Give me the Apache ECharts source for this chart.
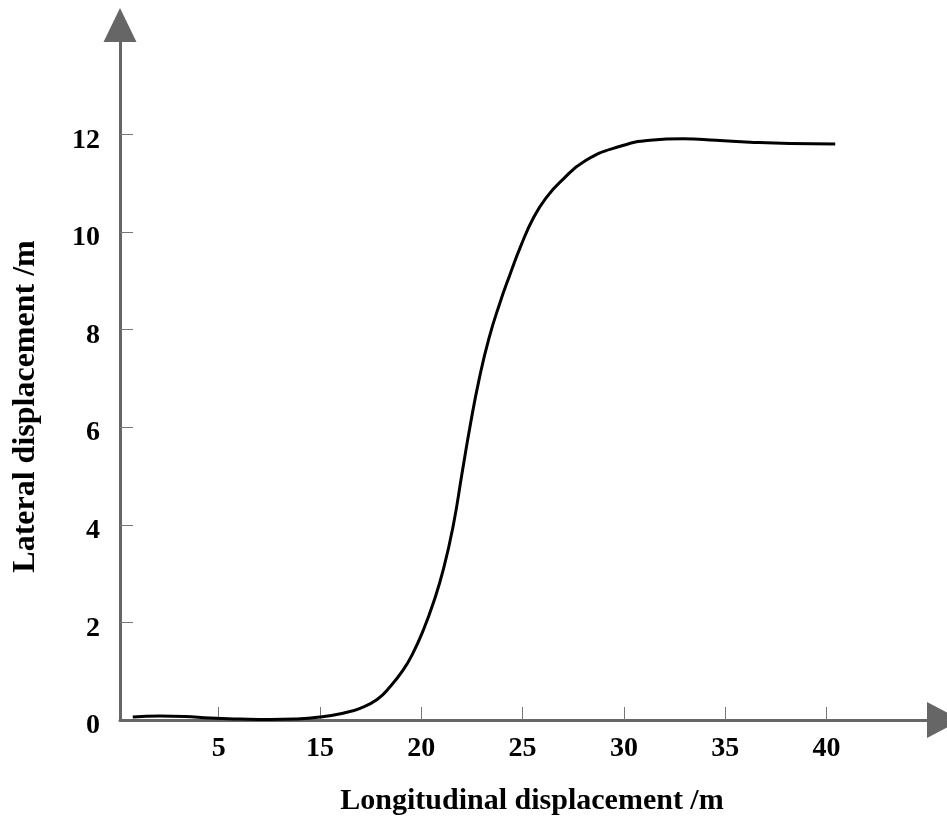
<!DOCTYPE html>
<html>
<head>
<meta charset="utf-8">
<script src="https://cdn.jsdelivr.net/npm/echarts@6/dist/echarts.min.js"></script>
<style>
  html, body { margin: 0; padding: 0; background: #fff; }
  #main { width: 947px; height: 821px; }
</style>
</head>
<body>
<div id="main"></div>
<script>
// 曲线数据
var xData = [5.76, 7.10, 8.34, 9.57, 11.05, 12.53, 13.77, 15.00, 16.14, 16.98, 17.82, 18.46, 19.10, 19.59, 20.09,
    20.58, 21.10, 21.59, 22.01, 22.43, 22.87, 23.34, 23.86, 24.38, 24.90, 25.55, 26.20, 26.85, 28.13, 29.86,
    31.29, 32.92, 34.55, 36.23, 38.20, 40.43];
var yData = [0.06, 0.08, 0.07, 0.04, 0.02, 0.01, 0.02, 0.06, 0.14, 0.24, 0.42, 0.68, 1.02, 1.37, 1.83,
    2.38, 3.10, 4.01, 5.05, 6.07, 7.01, 7.82, 8.52, 9.13, 9.70, 10.30, 10.72, 11.02, 11.47, 11.76,
    11.88, 11.91, 11.88, 11.84, 11.81, 11.80];
// 坐标轴刻度
var xTickValues = [10, 15, 20, 25, 30, 35, 40];
var xTickLabels = ['5', '15', '20', '25', '30', '35', '40'];
var yTickValues = [2, 4, 6, 8, 10, 12];
var yLabelValues = [0, 2, 4, 6, 8, 10, 12];

var points = [];
for (var i = 0; i < xData.length; i++) {
    points.push([xData[i], yData[i]]);
}

var font = '"Liberation Serif", "Times New Roman", serif';
var axisColor = '#666';

var myChart = echarts.init(document.getElementById('main'));
var option = {
    animation: false,
    backgroundColor: '#fff',
    grid: {
        left: 120,
        right: 3,
        top: 25,
        bottom: 97
    },
    xAxis: {
        type: 'value',
        min: 5.13,
        max: 45.8,
        splitLine: { show: false },
        axisLine: {
            onZero: false,
            symbol: ['none', 'triangle'],
            symbolSize: [36, 34],
            lineStyle: { color: axisColor, width: 3 }
        },
        axisTick: {
            inside: true,
            length: 13,
            customValues: xTickValues,
            lineStyle: { color: '#777', width: 1 }
        },
        axisLabel: {
            customValues: xTickValues,
            margin: 15,
            color: '#000',
            fontFamily: font,
            fontWeight: 'bold',
            fontSize: 28,
            formatter: function (v) {
                var idx = xTickValues.indexOf(v);
                return idx >= 0 ? xTickLabels[idx] : '';
            }
        },
        name: 'Longitudinal displacement /m',
        nameLocation: 'middle',
        nameGap: 66,
        nameTextStyle: {
            color: '#000',
            fontFamily: font,
            fontWeight: 'bold',
            fontSize: 30
        }
    },
    yAxis: {
        type: 'value',
        min: 0,
        max: 14.24,
        splitLine: { show: false },
        axisLine: {
            onZero: false,
            symbol: ['none', 'triangle'],
            symbolSize: [33, 34],
            lineStyle: { color: axisColor, width: 3 }
        },
        axisTick: {
            inside: true,
            length: 13,
            customValues: yTickValues,
            lineStyle: { color: '#777', width: 1 }
        },
        axisLabel: {
            customValues: yLabelValues,
            margin: 20,
            formatter: function (v) {
                return '{v|' + v + '}';
            },
            rich: {
                v: {
                    color: '#000',
                    fontFamily: font,
                    fontWeight: 'bold',
                    fontSize: 28,
                    padding: [12, 0, 0, 0]
                }
            }
        },
        name: 'Lateral displacement /m',
        nameLocation: 'middle',
        nameRotate: 90,
        nameGap: 78,
        nameTextStyle: {
            color: '#000',
            fontFamily: font,
            fontWeight: 'bold',
            fontSize: 32,
            padding: [0, 68, 0, 0]
        }
    },
    series: [
        {
            type: 'line',
            data: points,
            smooth: 0.5,
            showSymbol: false,
            lineStyle: { color: '#000', width: 3 }
        }
    ]
};
myChart.setOption(option);
</script>
</body>
</html>
